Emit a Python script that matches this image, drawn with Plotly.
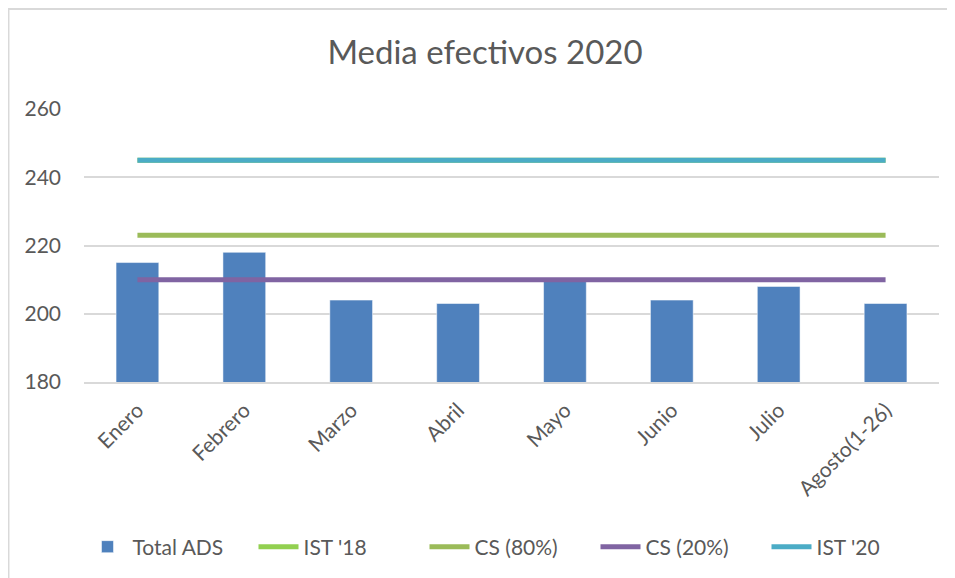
import plotly.graph_objects as go

months = ["Enero", "Febrero", "Marzo", "Abril", "Mayo", "Junio", "Julio", "Agosto(1-26)"]
total_ads = [215, 218, 204, 203, 210, 204, 208, 203]
ist_18 = [245] * 8
cs_80 = [223] * 8
cs_20 = [210] * 8
ist_20 = [245] * 8
y_ticks = [180, 200, 220, 240, 260]

FONT = "Lato"
GREY = "#595959"

fig = go.Figure()
fig.add_trace(go.Bar(x=months, y=total_ads, name="Total ADS",
                     marker=dict(color="#4f81bd", line=dict(color="rgba(255,255,255,0.5)", width=1)),
                     width=0.4))
fig.add_trace(go.Scatter(x=months, y=ist_18, name="IST '18", mode="lines",
                         line=dict(color="#92d050", width=5)))
fig.add_trace(go.Scatter(x=months, y=cs_80, name="CS (80%)", mode="lines",
                         line=dict(color="#9bbb59", width=5)))
fig.add_trace(go.Scatter(x=months, y=cs_20, name="CS (20%)", mode="lines",
                         line=dict(color="#8064a2", width=5)))
fig.add_trace(go.Scatter(x=months, y=ist_20, name="IST '20", mode="lines",
                         line=dict(color="#4bacc6", width=5)))

# page body has an 8px margin: figure origin is at (8, 8) in the window
OFF = 8
W, H = 955 - OFF, 578 - OFF
L, T = 84 - OFF, 109 - OFF
R = W - (938.7 - OFF)
B = H - (382 - OFF)
pw, ph = W - L - R, H - T - B

fig.update_layout(
    width=W, height=H,
    margin=dict(l=L, r=R, t=T, b=B),
    paper_bgcolor="white", plot_bgcolor="white",
    font=dict(family=FONT, color=GREY, size=20),
    title=dict(text="Media efectivos 2020", x=(485 - OFF) / W, xref="container", xanchor="center",
               y=1 - (52 - OFF) / H, yref="container", yanchor="middle",
               font=dict(size=33, color=GREY, family=FONT)),
    showlegend=True,
    legend=dict(orientation="h", xref="container", x=(510 - OFF) / W, xanchor="center",
                yref="container", y=1 - (547 - OFF) / H, yanchor="middle",
                entrywidth=116, itemwidth=40,
                font=dict(size=21, color=GREY, family=FONT), bgcolor="rgba(0,0,0,0)"),
    shapes=[dict(type="rect", xref="paper", yref="paper",
                 x0=(0.5 - L) / pw, x1=(W + 20 - L) / pw,
                 y0=-(H + 20 - (T + ph)) / ph, y1=(T + ph - 1) / ph,
                 line=dict(color="#d9d9d9", width=2), fillcolor="rgba(0,0,0,0)", layer="below")],
)

fig.update_xaxes(showgrid=False, showline=True, linecolor="#d9d9d9", linewidth=1.5,
                 tickangle=-45, ticks="", ticklabelstandoff=6,
                 tickfont=dict(size=21, color=GREY, family=FONT))
fig.update_yaxes(range=[180, 260], tickvals=y_ticks, showgrid=True, gridcolor="#d9d9d9",
                 gridwidth=1.5, zeroline=False, showline=False, ticks="",
                 tickfont=dict(size=21, color=GREY, family=FONT), ticklabelstandoff=22)

fig.write_html("out.html")
